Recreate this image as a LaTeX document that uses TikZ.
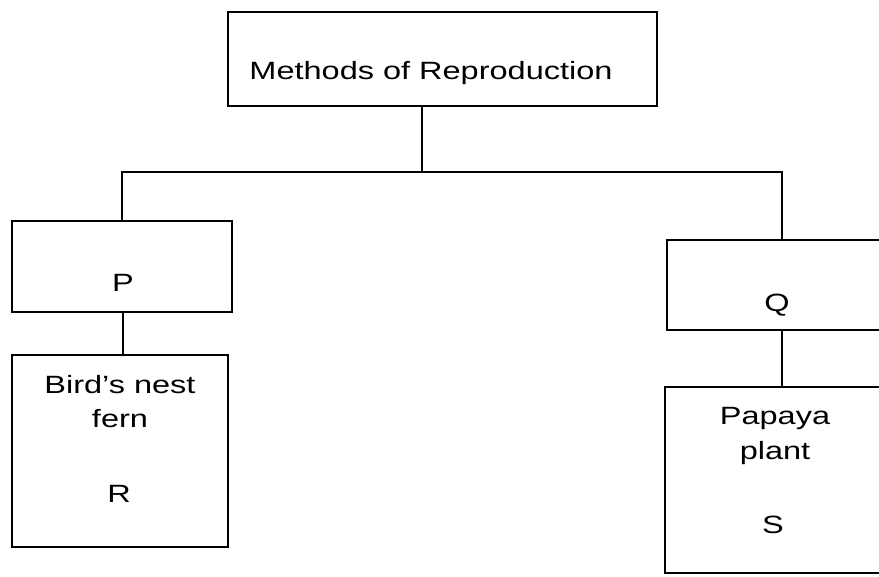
\documentclass[tikz,border=0pt]{standalone}
\usepackage{fontspec}
\setmainfont{Liberation Sans}
\usepackage{graphicx}
\newcommand{\wtxt}[1]{\scalebox{1.3}[1]{#1}}
\begin{document}
\begin{tikzpicture}[x=1pt,y=-1pt,
  box/.style={draw=black,line width=1.3pt,rectangle,inner sep=0pt},
  lbl/.style={inner sep=0pt,anchor=base,font=\fontsize{25}{30}\selectfont},
  conn/.style={draw=black,line width=1.3pt}]
\useasboundingbox (0,0) rectangle (879,577);
\fill[white] (0,0) rectangle (879,577);
\begin{scope}
\clip (0,0) rectangle (879,577);
% boxes
\node[box,minimum width=429pt,minimum height=94pt] (top) at (442.5,59) {};
\node[box,minimum width=220pt,minimum height=91pt] (P) at (122,266.5) {};
\node[box,minimum width=216pt,minimum height=192pt] (R) at (120,451) {};
\node[box,minimum width=230pt,minimum height=90pt] (Q) at (782,285) {};
\node[box,minimum width=234pt,minimum height=186pt] (S) at (782,480) {};
% texts
\node[lbl] (t1) at (431,80) {\wtxt{Methods of Reproduction}};
\node[lbl] (tP) at (123,292) {\wtxt{P}};
\node[lbl] (tR1) at (120,394) {\wtxt{Bird's nest}};
\node[lbl] (tR2) at (120,428) {\wtxt{fern}};
\node[lbl] (tR3) at (119,502) {\wtxt{R}};
\node[lbl] (tQ) at (777,312) {\wtxt{Q}};
\node[lbl] (tS1) at (775,425) {\wtxt{Papaya}};
\node[lbl] (tS2) at (775,460) {\wtxt{plant}};
\node[lbl] (tS3) at (773,533) {\wtxt{S}};
% connectors
\coordinate (j) at (422,172);
\draw[conn] (top.south -| j) -- (j);
\draw[conn] (P.north) |- (j) -| (Q.north);
\draw[conn] (P.south -| tP) -- (R.north -| tP);
\draw[conn] (Q.south) -- (S.north);
\end{scope}
\end{tikzpicture}
\end{document}
